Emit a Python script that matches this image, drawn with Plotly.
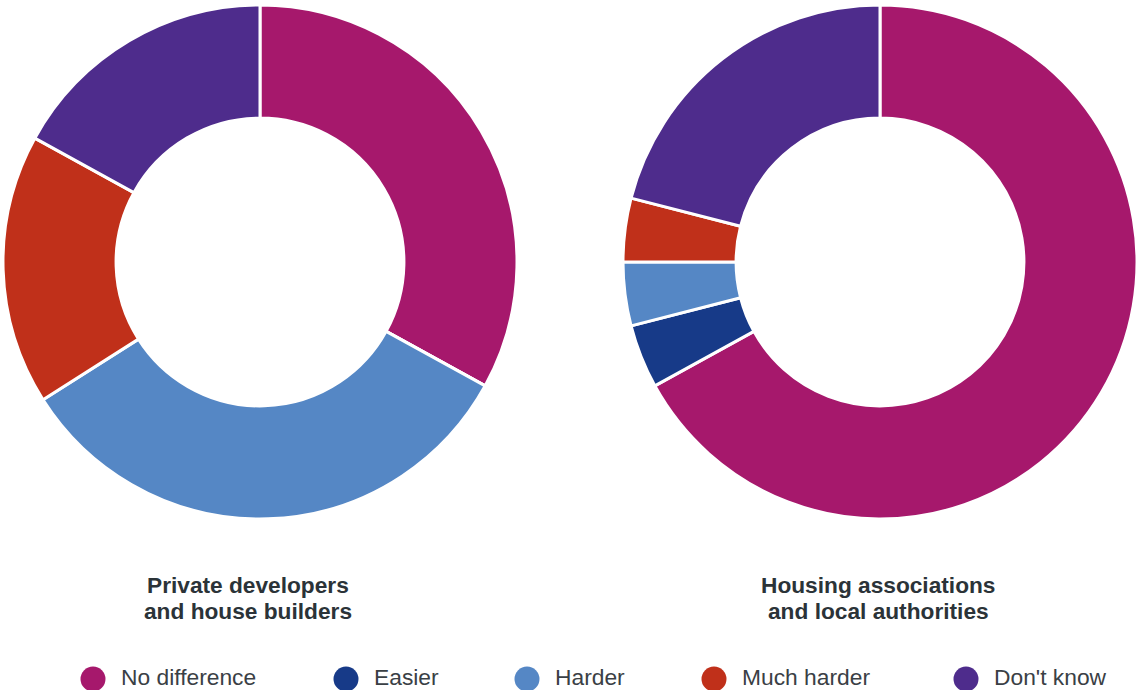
import plotly.graph_objects as go

W, H = 1138, 690

# Response categories and their colours
categories = ["No difference", "Easier", "Harder", "Much harder", "Don't know"]
colors = ["#A6186C", "#173A88", "#5587C5", "#C0301A", "#4E2C8C"]

# Share of respondents (%) per group
private_developers = [33, 0, 33, 17, 17]
housing_associations = [67, 4, 4, 4, 21]

# Two-line group titles shown under each donut
group_titles = [
    ["Private developers", "and house builders"],
    ["Housing associations", "and local authorities"],
]

TITLE_COLOR = "#2B3338"
TEXT_COLOR = "#3A4045"
FONT = "Liberation Sans, Arial, sans-serif"


def px_x(p):
    return p / W


def px_y(p):
    return 1 - p / H


fig = go.Figure()

# Donut geometry in pixels: (left, right, top, bottom)
donut_boxes = [(3, 517, 5, 519), (623, 1137, 5, 519)]

for values, (x0, x1, y0, y1) in zip([private_developers, housing_associations], donut_boxes):
    fig.add_trace(
        go.Pie(
            labels=categories,
            values=values,
            hole=0.56,
            sort=False,
            direction="clockwise",
            rotation=0,
            marker=dict(colors=colors, line=dict(color="white", width=3)),
            textinfo="none",
            showlegend=False,
            domain=dict(x=[px_x(x0), px_x(x1)], y=[px_y(y1), px_y(y0)]),
        )
    )

annotations = []
# Group titles: each line placed separately for tighter line spacing
title_line_y = [584.5, 610.5]
for lines, cx in zip(group_titles, [248, 878]):
    for line, ly in zip(lines, title_line_y):
        annotations.append(
            dict(
                text=f"<b>{line}</b>",
                x=px_x(cx), y=px_y(ly),
                xref="paper", yref="paper",
                xanchor="center", yanchor="middle",
                showarrow=False,
                font=dict(family=FONT, size=22.7, color=TITLE_COLOR),
            )
        )

# Legend row along the bottom
legend_x = [93, 346, 527, 714, 966]
legend_y = 679
marker_r = 12.5
shapes = []
for name, color, cx in zip(categories, colors, legend_x):
    shapes.append(
        dict(
            type="circle",
            xref="paper", yref="paper",
            x0=px_x(cx - marker_r), x1=px_x(cx + marker_r),
            y0=px_y(legend_y + marker_r), y1=px_y(legend_y - marker_r),
            fillcolor=color,
            line=dict(width=0),
        )
    )
    annotations.append(
        dict(
            text=name,
            x=px_x(cx + 26), y=px_y(677),
            xref="paper", yref="paper",
            xanchor="left", yanchor="middle",
            showarrow=False,
            font=dict(family=FONT, size=22.8, color=TEXT_COLOR),
        )
    )

fig.update_layout(
    width=W,
    height=H,
    margin=dict(l=0, r=0, t=0, b=0),
    paper_bgcolor="white",
    plot_bgcolor="white",
    annotations=annotations,
    shapes=shapes,
    showlegend=False,
)

fig.write_html("out.html")
